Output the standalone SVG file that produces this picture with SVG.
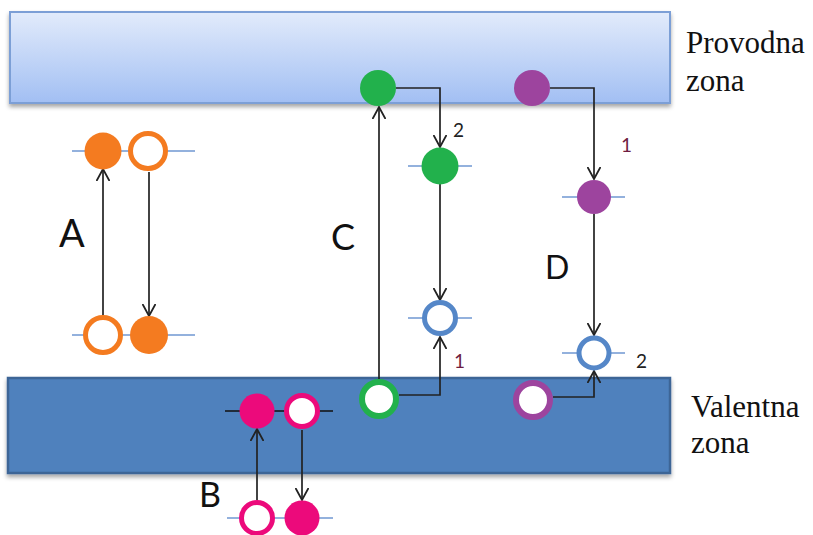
<svg xmlns="http://www.w3.org/2000/svg" width="813" height="535" viewBox="0 0 813 535">
<defs>
<linearGradient id="cb" x1="0" y1="0" x2="0" y2="1">
<stop offset="0" stop-color="#e2ebfb"/>
<stop offset="1" stop-color="#a2bff3"/>
</linearGradient>
<filter id="sh" x="-5%" y="-10%" width="110%" height="130%">
<feDropShadow dx="0" dy="3" stdDeviation="2" flood-color="#000" flood-opacity="0.35"/>
</filter>
<marker id="ah" viewBox="0 0 13 14" refX="12" refY="7" markerWidth="13" markerHeight="14" markerUnits="userSpaceOnUse" orient="auto">
<path d="M0,0.5 L12,7 L0,13.5" fill="none" stroke="#222" stroke-width="1.8"/>
</marker>
</defs>
<style>
.lvl{stroke:#6f97d2;stroke-width:1.5}
.lvlk{stroke:#111;stroke-width:1.5}
.con{fill:none;stroke:#222;stroke-width:1.7;marker-end:url(#ah)}
.zn{font-family:"Liberation Serif","Times New Roman",serif;font-size:31px;fill:#111}
.lt{font-family:Lato,"Liberation Sans",Arial,sans-serif;fill:#111}
.n1{font-family:Lato,"Liberation Sans",Arial,sans-serif;font-size:19px;fill:#6e1c42}
.n2{font-family:Lato,"Liberation Sans",Arial,sans-serif;font-size:19px;fill:#222}
.or{fill:#f47b20}.orh{fill:#fff;stroke:#f47b20;stroke-width:5}
.gr{fill:#22b14c}.grh{fill:#fff;stroke:#22b14c;stroke-width:6}
.pu{fill:#9d449e}.puh{fill:#fff;stroke:#9d449e;stroke-width:6}
.mg{fill:#ec0a7b}.mgh{fill:#fff;stroke:#ec0a7b;stroke-width:5}
.bh{fill:#fff;stroke:#5587c8;stroke-width:5}
</style>

<g id="provodna">
<rect x="10" y="12" width="660" height="91" fill="url(#cb)" stroke="#7b9fd6" stroke-width="2" filter="url(#sh)"/>
<text class="zn" x="686" y="53">Provodna</text>
<text class="zn" x="686" y="91">zona</text>
</g>
<g id="valentna">
<rect x="8" y="378" width="662" height="95" fill="#4f81bd" stroke="#3c6596" stroke-width="2.5" filter="url(#sh)"/>
<text class="zn" x="691" y="417">Valentna</text>
<text class="zn" x="691" y="453">zona</text>
</g>

<g id="levels">
<line class="lvl" x1="72" y1="151" x2="195" y2="151"/>
<line class="lvl" x1="72" y1="335" x2="195" y2="335"/>
<line class="lvl" x1="408" y1="166" x2="472" y2="166"/>
<line class="lvl" x1="408" y1="318" x2="472" y2="318"/>
<line class="lvl" x1="562" y1="197" x2="625" y2="197"/>
<line class="lvl" x1="562" y1="353" x2="625" y2="353"/>
<line class="lvlk" x1="225" y1="411" x2="333" y2="411"/>
<line class="lvl" x1="227" y1="518" x2="333" y2="518"/>
</g>

<g id="connectors">
<line class="con" x1="103" y1="316" x2="103" y2="169"/>
<line class="con" x1="149" y1="172" x2="149" y2="316"/>
<line class="con" x1="379" y1="380" x2="379" y2="107"/>
<path class="con" d="M396,88 H440 V147"/>
<line class="con" x1="440" y1="184" x2="440" y2="300"/>
<path class="con" d="M399,395 H440 V337"/>
<path class="con" d="M550,88 H594 V179"/>
<line class="con" x1="594" y1="214" x2="594" y2="335"/>
<path class="con" d="M553,397 H594 V371"/>
<line class="con" x1="257" y1="500" x2="257" y2="429"/>
<line class="con" x1="302" y1="430" x2="302" y2="500"/>
</g>

<g id="A">
<circle class="or" cx="103" cy="151" r="18.5"/>
<circle class="orh" cx="148" cy="151" r="17.5"/>
<circle class="orh" cx="103" cy="335" r="17.5"/>
<circle class="or" cx="149" cy="335" r="19"/>
<text class="lt" x="59" y="247" font-size="38">A</text>
</g>

<g id="B">
<circle class="mg" cx="257" cy="411" r="17.5"/>
<circle class="mgh" cx="302" cy="411" r="15.5"/>
<circle class="mgh" cx="257" cy="518" r="15.5"/>
<circle class="mg" cx="302" cy="518" r="17.5"/>
<text class="lt" x="199" y="507" font-size="34">B</text>
</g>

<g id="C">
<circle class="gr" cx="378" cy="88" r="18"/>
<circle class="gr" cx="440" cy="166" r="18.5"/>
<circle class="bh" cx="440" cy="318" r="15.5"/>
<circle class="grh" cx="379" cy="399" r="17"/>
<text class="lt" x="331" y="250" font-size="36">C</text>
<text class="n2" x="453" y="137">2</text>
<text class="n1" x="454" y="368">1</text>
</g>

<g id="D">
<circle class="pu" cx="532" cy="88" r="18"/>
<circle class="pu" cx="594" cy="197" r="17"/>
<circle class="bh" cx="594" cy="353" r="15"/>
<circle class="puh" cx="533" cy="400" r="17"/>
<text class="lt" x="545" y="279" font-size="32">D</text>
<text class="n1" x="621" y="152">1</text>
<text class="n2" x="636" y="368">2</text>
</g>
</svg>
